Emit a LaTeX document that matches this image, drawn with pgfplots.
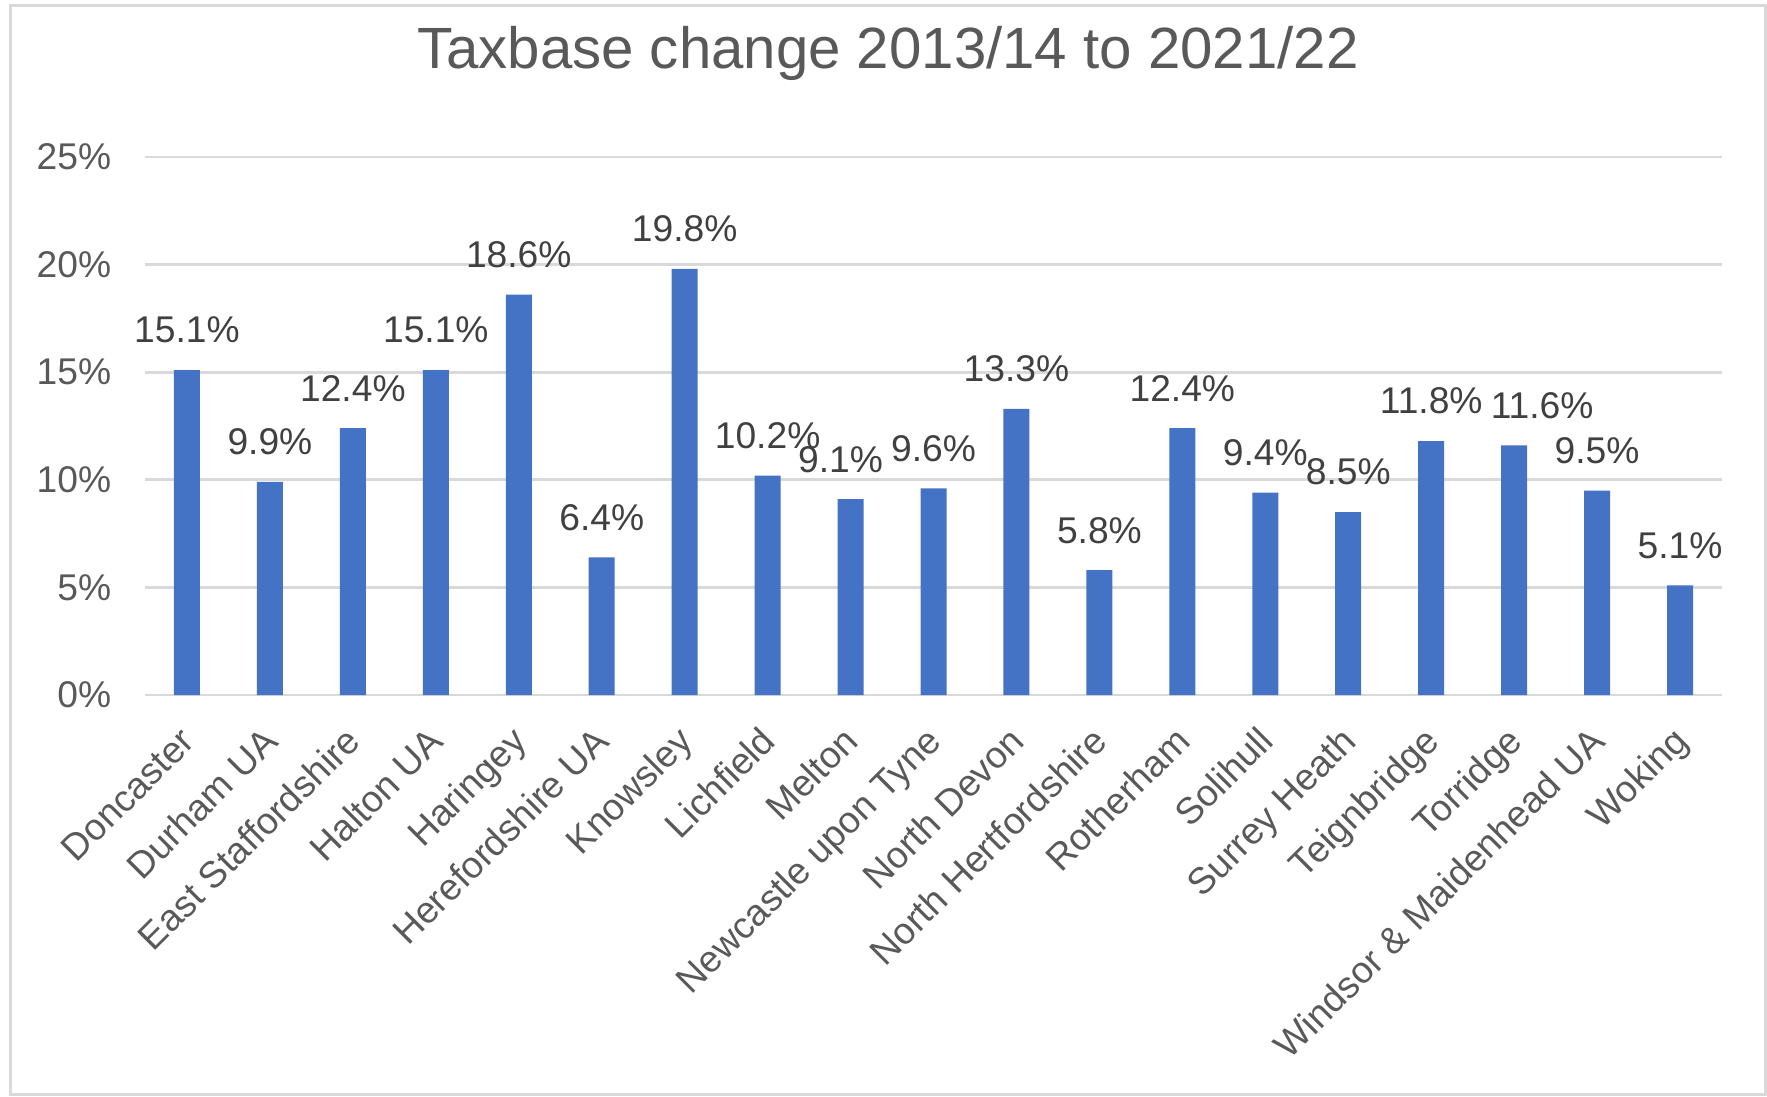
\documentclass[border=0pt]{standalone}
\usepackage{fontspec}
\setmainfont{Liberation Sans}
\usepackage{pgfplots}
\usepackage{pgfplotstable}
\pgfplotsset{compat=1.18}
\definecolor{barblue}{HTML}{4472C4}
\definecolor{gridgray}{HTML}{D9D9D9}
\definecolor{txtgray}{HTML}{595959}
\definecolor{lblgray}{HTML}{404040}
\pgfplotstableread{
x y dx
0 15.1 0
1 9.9 0
2 12.4 0
3 15.1 0
4 18.6 0
5 6.4 0
6 19.8 0
7 10.2 0
8 9.1 -2.5
9 9.6 0
10 13.3 0
11 5.8 0
12 12.4 0
13 9.4 0
14 8.5 0
15 11.8 0
16 11.6 7
17 9.5 0
18 5.1 0
}\taxdata
\begin{document}
\begin{tikzpicture}
\useasboundingbox (0,0) rectangle (441.75pt,274pt);
\draw[gridgray, line width=0.75pt] (2.5pt,0.4pt) rectangle (441.25pt,272.75pt);
\begin{axis}[
  at={(36.375pt,100.25pt)}, anchor=south west,
  scale only axis, width=394pt, height=134.5pt,
  ybar, bar width=6.5pt,
  xmin=-0.5, xmax=18.5, ymin=0, ymax=25,
  axis line style={draw=none},
  major tick length=0pt,
  xtick={0,...,18},
  xticklabels={Doncaster, Durham UA, East Staffordshire, Halton UA, Haringey, Herefordshire UA, Knowsley, Lichfield, Melton, Newcastle upon Tyne, North Devon, North Hertfordshire, Rotherham, Solihull, Surrey Heath, Teignbridge, Torridge, Windsor \& Maidenhead UA, Woking},
  ytick={0,5,10,15,20,25},
  yticklabels={0\%,5\%,10\%,15\%,20\%,25\%},
  ymajorgrids, grid style={gridgray, line width=0.7pt},
  tick label style={font=\fontsize{9.3}{11}\selectfont, text=txtgray},
  yticklabel style={anchor=east, inner sep=0pt, xshift=-8.4pt},
  xticklabel style={xshift=0.8pt, yshift=-10.25pt, rotate=45, anchor=east, inner sep=0pt, text height=7pt, text depth=2pt},
  /pgf/number format/assume math mode=true,
  visualization depends on={\thisrow{dx} \as \labdx},
  nodes near coords={\pgfmathprintnumber[fixed,fixed zerofill,precision=1]{\pgfplotspointmeta}\%},
  every node near coord/.append style={font=\fontsize{9.3}{11}\selectfont, text=lblgray, inner ysep=6.5pt, inner xsep=0pt, xshift=\labdx pt},
  title={Taxbase change 2013/14 to 2021/22},
  title style={at={(0.5,1)}, anchor=base, yshift=16.25pt, xshift=-11.4pt, font=\fontsize{14.55}{17}\selectfont, text=txtgray},
]
\addplot[fill=barblue, draw=none] table[x=x, y=y] {\taxdata};
\end{axis}
\end{tikzpicture}
\end{document}
